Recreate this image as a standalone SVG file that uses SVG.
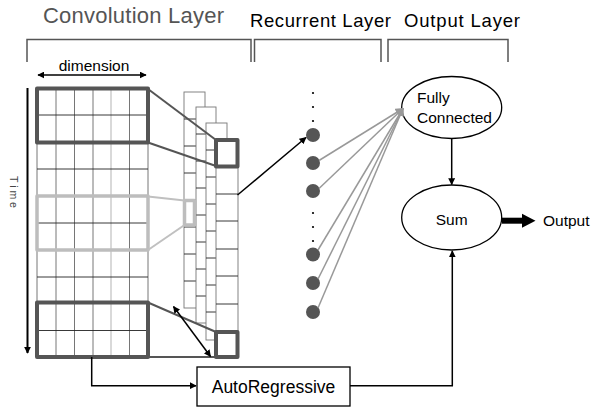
<svg xmlns="http://www.w3.org/2000/svg" width="601" height="407" viewBox="0 0 601 407">
  <style>
    .t { font-family: "Liberation Sans", Arial, sans-serif; fill: #000; }
    .bracket { fill: none; stroke: #555; stroke-width: 1.5; }
    .cellv { stroke: #666; stroke-width: 0.9; }
    .cellh { stroke: #222; stroke-width: 0.9; }
    .map { fill: #fff; stroke: #777; stroke-width: 0.9; }
    .dark { fill: none; stroke: #555; stroke-width: 4; stroke-linejoin: round; }
    .light { fill: none; stroke: #bdbdbd; stroke-width: 3.5; stroke-linejoin: round; }
    .link-dark { stroke: #555; stroke-width: 2; fill: none; }
    .link-light { stroke: #c0c0c0; stroke-width: 2; fill: none; }
    .arrow { stroke: #000; stroke-width: 1.5; fill: none; }
    .fc { stroke: #999; stroke-width: 1.5; fill: none; }
    .unit { fill: #555; }
    .node { fill: #fff; stroke: #000; stroke-width: 1.3; }
  </style>
  <defs>
    <marker id="ah" viewBox="0 0 10 10" refX="9" refY="5" markerWidth="7" markerHeight="7" orient="auto-start-reverse" markerUnits="userSpaceOnUse">
      <path d="M0,0 L10,5 L0,10 z" fill="#000"/>
    </marker>
    <marker id="ahg" viewBox="0 0 10 10" refX="9" refY="5" markerWidth="8" markerHeight="8" orient="auto" markerUnits="userSpaceOnUse">
      <path d="M0,0 L10,5 L0,10 z" fill="#999"/>
    </marker>
  </defs>

  <!-- layer titles -->
  <text class="t" x="43" y="23" font-size="22" style="fill:#555" textLength="181">Convolution Layer</text>
  <text class="t" x="250" y="27" font-size="18.5" textLength="141">Recurrent Layer</text>
  <text class="t" x="404" y="27" font-size="18.5" textLength="116">Output Layer</text>

  <!-- layer brackets -->
  <path class="bracket" d="M27,62 V39.5 H251 V62"/>
  <path class="bracket" d="M254.5,62 V39.5 H381 V62"/>
  <path class="bracket" d="M388,62 V39.5 H508 V62"/>

  <!-- input matrix -->
  <g id="input">
    <text class="t" x="94" y="71" font-size="15.5" text-anchor="middle">dimension</text>
    <line class="arrow" x1="38" y1="75" x2="146" y2="75" marker-start="url(#ah)" marker-end="url(#ah)"/>
    <line x1="27.5" y1="88" x2="27.5" y2="353" stroke="#000" stroke-width="2" marker-end="url(#ah)"/>
    <text class="t" font-size="10.5" style="fill:#444" transform="translate(10,176) rotate(90)">T i m e</text>
    <g>
      <line class="cellv" x1="56" y1="88" x2="56" y2="357"/>
      <line class="cellv" x1="74.5" y1="88" x2="74.5" y2="357"/>
      <line class="cellv" x1="93" y1="88" x2="93" y2="357"/>
      <line class="cellv" x1="111" y1="88" x2="111" y2="357" style="stroke:#aaa"/>
      <line class="cellv" x1="129.5" y1="88" x2="129.5" y2="357"/>
      <line class="cellv" x1="37" y1="88" x2="37" y2="357"/>
      <line class="cellv" x1="148" y1="88" x2="148" y2="357"/>
      <line class="cellh" x1="37" y1="115" x2="148" y2="115"/>
      <line class="cellh" x1="37" y1="169" x2="148" y2="169"/>
      <line class="cellh" x1="37" y1="223" x2="148" y2="223"/>
      <line class="cellh" x1="37" y1="277" x2="148" y2="277"/>
      <line class="cellh" x1="37" y1="330.5" x2="148" y2="330.5"/>
    </g>
    <rect class="dark" x="37" y="88.5" width="111" height="54"/>
    <rect class="light" x="37" y="196" width="111" height="54"/>
    <rect class="dark" x="37" y="302.5" width="111" height="54.5"/>
  </g>

  <!-- stacked feature maps -->
  <g id="feature-maps">
    <rect class="map" x="184" y="92" width="21" height="216"/>
    <path class="cellh" d="M184,119H205 M184,146H205 M184,173H205 M184,200H205 M184,227H205 M184,254H205 M184,281H205"/>
    <rect class="map" x="196" y="107" width="20" height="216"/>
    <path class="cellh" d="M196,134H216 M196,161H216 M196,188H216 M196,215H216 M196,242H216 M196,269H216 M196,296H216"/>
    <rect class="map" x="206" y="123" width="21" height="217"/>
    <path class="cellh" d="M206,150H227 M206,177H227 M206,204H227 M206,231H227 M206,258H227 M206,285H227 M206,312H227"/>
    <rect class="map" x="216" y="140" width="22" height="217"/>
    <path class="cellh" d="M216,194H238 M216,221H238 M216,249H238 M216,276H238 M216,304H238"/>
    <rect class="light" x="184.5" y="200.5" width="10" height="24.5" stroke-width="3"/>
    <rect class="dark" x="216" y="140" width="21.5" height="26.5"/>
    <rect class="dark" x="216" y="332" width="21.5" height="25"/>
  </g>

  <!-- filter projection lines -->
  <g id="projections">
    <line class="link-dark" x1="148" y1="89" x2="216" y2="140"/>
    <line class="link-dark" x1="148" y1="142.5" x2="216" y2="166"/>
    <line class="link-light" x1="148" y1="196.5" x2="184.5" y2="200.5"/>
    <line class="link-light" x1="148" y1="250" x2="184.5" y2="225"/>
    <line class="link-dark" x1="148" y1="302.5" x2="216" y2="332"/>
    <line class="link-dark" x1="148" y1="357" x2="216" y2="357"/>
  </g>

  <!-- recurrent units -->
  <g id="recurrent">
    <circle cx="313" cy="93" r="1.1" fill="#000"/>
    <circle cx="313" cy="107" r="1.1" fill="#000"/>
    <circle cx="313" cy="121" r="1.1" fill="#000"/>
    <circle class="unit" cx="313" cy="135" r="7"/>
    <circle class="unit" cx="313" cy="163" r="7"/>
    <circle class="unit" cx="313" cy="191" r="7"/>
    <circle cx="313" cy="213" r="1.1" fill="#000"/>
    <circle cx="313" cy="227" r="1.1" fill="#000"/>
    <circle cx="313" cy="241" r="1.1" fill="#000"/>
    <circle class="unit" cx="313" cy="254.5" r="7"/>
    <circle class="unit" cx="313" cy="283" r="7"/>
    <circle class="unit" cx="313" cy="312" r="7"/>
  </g>

  <!-- output nodes -->
  <g id="fully-connected">
    <ellipse class="node" cx="451.7" cy="107.5" rx="50" ry="31"/>
    <text class="t" x="417" y="103" font-size="15.5">Fully</text>
    <text class="t" x="417" y="123" font-size="15.5">Connected</text>
  </g>
  <g id="sum">
    <ellipse class="node" cx="451.7" cy="217.5" rx="50" ry="32.5"/>
    <text class="t" x="451.7" y="225" font-size="15.5" text-anchor="middle">Sum</text>
  </g>
  <g id="output">
    <text class="t" x="543" y="226" font-size="15.5">Output</text>
  </g>
  <g id="autoregressive">
    <rect class="node" x="197" y="367" width="153" height="39"/>
    <text class="t" x="273.5" y="392.7" font-size="17.5" text-anchor="middle">AutoRegressive</text>
  </g>

  <!-- connectors -->
  <g id="connectors">
    <line class="arrow" x1="173.5" y1="306.5" x2="210.5" y2="356.5" marker-start="url(#ah)" marker-end="url(#ah)"/>
    <line class="arrow" x1="237.5" y1="195" x2="306" y2="137.5" marker-end="url(#ah)"/>
    <line class="fc" x1="319" y1="160.5" x2="403" y2="108.5" marker-end="url(#ahg)"/>
    <line class="fc" x1="319" y1="188.5" x2="403" y2="108.5" marker-end="url(#ahg)"/>
    <line class="fc" x1="318" y1="250" x2="403" y2="108.5" marker-end="url(#ahg)"/>
    <line class="fc" x1="318" y1="279" x2="403" y2="108.5" marker-end="url(#ahg)"/>
    <line class="fc" x1="318" y1="308" x2="403" y2="108.5" marker-end="url(#ahg)"/>
    <line class="arrow" x1="451.7" y1="138.5" x2="451.7" y2="184.5" marker-end="url(#ah)"/>
    <path class="arrow" d="M350,385.7 H452.3 V251" marker-end="url(#ah)"/>
    <path class="arrow" d="M91.7,357 V385.7 H196" marker-end="url(#ah)"/>
    <line x1="502" y1="220.7" x2="524" y2="220.7" stroke="#000" stroke-width="6"/>
    <path d="M522,213.7 L535.5,220.7 L522,227.7 z" fill="#000"/>
  </g>
</svg>
